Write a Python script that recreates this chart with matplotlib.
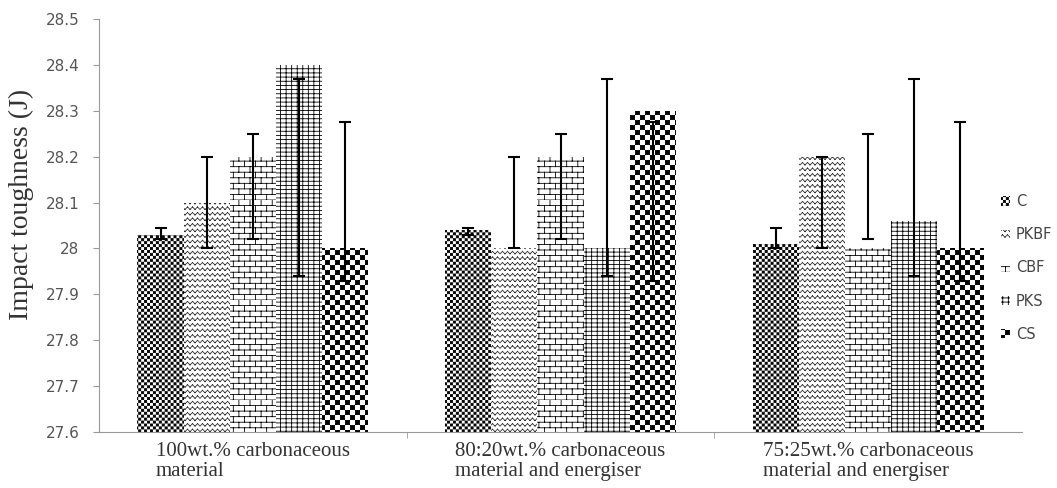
# impact_toughness.py
# 冲击韧性柱状图（黑白图案填充）

import warnings
import numpy as np
import matplotlib
matplotlib.use('Agg')
import matplotlib.pyplot as plt
from matplotlib import hatch as mhatch
from matplotlib.path import Path
from matplotlib.ticker import FixedLocator, FuncFormatter

warnings.filterwarnings('ignore')

# ---- 数据 ----
categories = ['100wt.% carbonaceous\nmaterial',
              '80:20wt.% carbonaceous\nmaterial and energiser',
              '75:25wt.% carbonaceous\nmaterial and energiser']
series = ['C', 'PKBF', 'CBF', 'PKS', 'CS']

c_vals = [28.03, 28.04, 28.01]
pkbf_vals = [28.10, 28.00, 28.20]
cbf_vals = [28.20, 28.20, 28.00]
pks_vals = [28.40, 28.00, 28.06]
cs_vals = [28.00, 28.30, 28.00]

# 误差棒上下端
c_lo = [28.02, 28.03, 28.00]
c_hi = [28.045, 28.045, 28.045]
pkbf_lo = [28.00, 28.00, 28.00]
pkbf_hi = [28.20, 28.20, 28.20]
cbf_lo = [28.02, 28.02, 28.02]
cbf_hi = [28.25, 28.25, 28.25]
pks_lo = [27.94, 27.94, 27.94]
pks_hi = [28.37, 28.37, 28.37]
cs_lo = [27.93, 27.93, 27.93]
cs_hi = [28.275, 28.275, 28.275]

y_ticks = [27.6, 27.7, 27.8, 27.9, 28.0, 28.1, 28.2, 28.3, 28.4, 28.5]

HATCH_LW = 0.6  # points
INSET = HATCH_LW / 72 / 2  # 补偿描边宽度 (单位: 英寸 = 图案单元)


# ---- 自定义填充图案 ----
def make_checker(char, n):
    """棋盘格图案"""
    class Checker(mhatch.HatchPatternBase):
        def __init__(self, hatch, density):
            self.num_vertices = (n * n // 2) * 5 if char in hatch else 0

        def set_vertices_and_codes(self, vertices, codes):
            s = 1.0 / n
            d = INSET
            k = 0
            for i in range(n):
                for j in range(n):
                    if (i + j) % 2:
                        continue
                    x0, y0 = i * s + d, j * s + d
                    x1, y1 = (i + 1) * s - d, (j + 1) * s - d
                    vertices[k:k + 5] = [(x0, y0), (x1, y0), (x1, y1), (x0, y1), (x0, y0)]
                    codes[k:k + 5] = [Path.MOVETO, Path.LINETO, Path.LINETO,
                                      Path.LINETO, Path.CLOSEPOLY]
                    k += 5
    return Checker


class ZigZag(mhatch.HatchPatternBase):
    """波浪线图案"""
    rows, periods = 18, 20

    def __init__(self, hatch, density):
        self.num_vertices = self.rows * self.periods * 4 if 'z' in hatch else 0

    def set_vertices_and_codes(self, vertices, codes):
        a = 0.45 / self.rows
        p = 1.0 / self.periods
        k = 0
        for r in range(self.rows):
            y0 = (r + 0.3) / self.rows
            for j in range(self.periods):
                x0 = j * p
                vertices[k:k + 4] = [(x0, y0), (x0 + p / 2, y0 + a),
                                     (x0 + p / 2, y0 + a), (x0 + p, y0)]
                codes[k:k + 4] = [Path.MOVETO, Path.LINETO, Path.MOVETO, Path.LINETO]
                k += 4


class Brick(mhatch.HatchPatternBase):
    """砖墙图案"""
    rows, bricks = 18, 9

    def __init__(self, hatch, density):
        self.num_vertices = (self.rows * 2 + self.rows * self.bricks * 2) if 'b' in hatch else 0

    def set_vertices_and_codes(self, vertices, codes):
        k = 0
        h = 1.0 / self.rows
        for r in range(self.rows):
            y0 = r * h
            vertices[k:k + 2] = [(0.0, y0), (1.0, y0)]
            codes[k:k + 2] = [Path.MOVETO, Path.LINETO]
            k += 2
            for j in range(self.bricks):
                x = (j + 0.5 * (r % 2)) / self.bricks
                vertices[k:k + 2] = [(x, y0), (x, y0 + h)]
                codes[k:k + 2] = [Path.MOVETO, Path.LINETO]
                k += 2


mhatch._hatch_types.extend([make_checker('c', 20), make_checker('d', 34), ZigZag, Brick])

plt.rcParams['hatch.linewidth'] = HATCH_LW

# ---- 绘图 ----
fig = plt.figure(figsize=(10.57, 4.88), dpi=100)
ax = fig.add_axes([99 / 1057, 56 / 488, 923 / 1057, 413 / 488])

x = np.arange(len(categories))
width = 0.15
all_vals = [c_vals, pkbf_vals, cbf_vals, pks_vals, cs_vals]
all_lo = [c_lo, pkbf_lo, cbf_lo, pks_lo, cs_lo]
all_hi = [c_hi, pkbf_hi, cbf_hi, pks_hi, cs_hi]
hatches = ['d', 'z', 'b', '|||----', 'c']
hatch_colors = ['black', '#333333', 'black', 'black', 'black']

for k, name in enumerate(series):
    pos = x + (k - 2) * width
    ax.bar(pos, all_vals[k], width, color='white', edgecolor=hatch_colors[k],
           linewidth=0, hatch=hatches[k], label=name, zorder=2)
    lo = np.array(all_lo[k])
    hi = np.array(all_hi[k])
    ax.errorbar(pos, (lo + hi) / 2, yerr=(hi - lo) / 2, fmt='none', ecolor='black',
                elinewidth=1.5, capsize=4, capthick=1.5, zorder=3)

ax.set_xlim(-0.5, 2.5)
ax.set_ylim(27.6, 28.5)
ax.yaxis.set_major_locator(FixedLocator(y_ticks))
ax.yaxis.set_major_formatter(FuncFormatter(lambda v, p: f'{round(v, 1):g}'))

ax.set_xticks(x)
ax.set_xticklabels(categories, fontfamily='Liberation Serif', fontsize=15,
                   color='#333333', ha='center', multialignment='left',
                   linespacing=1.1)
ax.set_xticks([0.5, 1.5], minor=True)
ax.tick_params(axis='x', which='major', length=0, pad=7)
ax.tick_params(axis='x', which='minor', length=4, color='#999999')
ax.tick_params(axis='y', length=4, color='#999999', labelsize=11, labelcolor='#555555', pad=10)

for s in ['top', 'right']:
    ax.spines[s].set_visible(False)
for s in ['left', 'bottom']:
    ax.spines[s].set_color('#999999')

ax.set_ylabel('Impact toughness (J)', fontfamily='Liberation Serif', fontsize=20,
              color='#333333')
ax.yaxis.set_label_coords(-0.070, 0.55)

fig.legend(loc='center left', bbox_to_anchor=(988 / 1057, 1 - 268 / 488), frameon=False,
           fontsize=10.5, handlelength=0.6, handleheight=0.6, handletextpad=0.4,
           labelspacing=1.25, labelcolor='#444444')

fig.savefig('out.png', dpi=100)
